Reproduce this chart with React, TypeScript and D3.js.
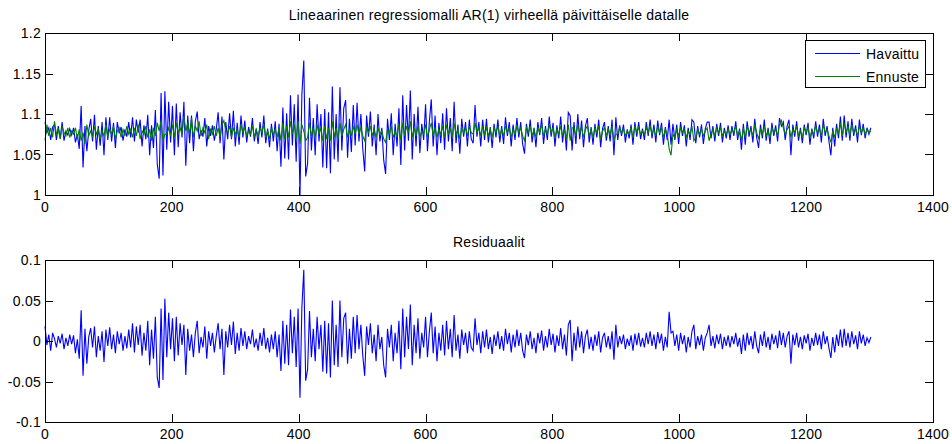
import React from "react";
import * as d3 from "d3";

// Sampled every DAY_STEP days (day = index * DAY_STEP)
const DAY_STEP = 3;

const havaittu = [
  1.090, 1.077, 1.083, 1.068, 1.084, 1.087, 1.068, 1.085, 1.070, 1.090, 1.067, 1.079, 1.074, 1.082, 1.074,
  1.083, 1.065, 1.075, 1.057, 1.110, 1.034, 1.085, 1.054, 1.080, 1.094, 1.066, 1.099, 1.056, 1.085, 1.061,
  1.090, 1.049, 1.096, 1.068, 1.096, 1.066, 1.089, 1.058, 1.090, 1.076, 1.084, 1.067, 1.081, 1.072, 1.090,
  1.071, 1.096, 1.066, 1.093, 1.077, 1.093, 1.060, 1.086, 1.069, 1.099, 1.049, 1.086, 1.058, 1.105, 1.038,
  1.020, 1.126, 1.024, 1.128, 1.056, 1.115, 1.065, 1.110, 1.049, 1.113, 1.059, 1.102, 1.071, 1.115, 1.036,
  1.098, 1.064, 1.098, 1.054, 1.091, 1.103, 1.069, 1.080, 1.072, 1.095, 1.060, 1.085, 1.073, 1.086, 1.067,
  1.081, 1.102, 1.064, 1.097, 1.044, 1.090, 1.069, 1.101, 1.069, 1.104, 1.060, 1.089, 1.062, 1.098, 1.071,
  1.092, 1.065, 1.084, 1.072, 1.095, 1.066, 1.082, 1.063, 1.090, 1.071, 1.098, 1.064, 1.082, 1.059, 1.088,
  1.066, 1.091, 1.054, 1.088, 1.035, 1.108, 1.045, 1.101, 1.044, 1.123, 1.061, 1.112, 1.041, 1.124, 1.000,
  1.124, 1.166, 1.023, 1.039, 1.120, 1.055, 1.095, 1.049, 1.112, 1.066, 1.100, 1.034, 1.106, 1.033, 1.102,
  1.027, 1.134, 1.044, 1.100, 1.041, 1.133, 1.055, 1.107, 1.117, 1.046, 1.094, 1.053, 1.111, 1.061, 1.114,
  1.066, 1.100, 1.057, 1.029, 1.098, 1.072, 1.103, 1.060, 1.087, 1.049, 1.100, 1.066, 1.083, 1.043, 1.026,
  1.094, 1.068, 1.101, 1.049, 1.088, 1.060, 1.107, 1.037, 1.123, 1.055, 1.111, 1.067, 1.129, 1.044, 1.100,
  1.060, 1.109, 1.052, 1.088, 1.068, 1.112, 1.054, 1.091, 1.118, 1.060, 1.098, 1.049, 1.089, 1.064, 1.101,
  1.056, 1.107, 1.066, 1.095, 1.054, 1.115, 1.064, 1.087, 1.051, 1.094, 1.072, 1.090, 1.060, 1.093, 1.069,
  1.064, 1.111, 1.072, 1.090, 1.060, 1.093, 1.068, 1.094, 1.065, 1.084, 1.058, 1.088, 1.071, 1.093, 1.065,
  1.085, 1.063, 1.096, 1.073, 1.090, 1.060, 1.087, 1.068, 1.095, 1.071, 1.090, 1.063, 1.051, 1.088, 1.072,
  1.093, 1.065, 1.083, 1.059, 1.090, 1.074, 1.095, 1.063, 1.085, 1.068, 1.097, 1.072, 1.089, 1.060, 1.086,
  1.070, 1.097, 1.065, 1.087, 1.055, 1.102, 1.098, 1.055, 1.090, 1.063, 1.100, 1.069, 1.092, 1.059, 1.085,
  1.095, 1.065, 1.084, 1.062, 1.088, 1.071, 1.093, 1.059, 1.082, 1.090, 1.067, 1.085, 1.066, 1.093, 1.049,
  1.096, 1.068, 1.086, 1.073, 1.087, 1.065, 1.081, 1.070, 1.087, 1.062, 1.090, 1.072, 1.090, 1.069, 1.082,
  1.068, 1.090, 1.073, 1.093, 1.070, 1.087, 1.065, 1.092, 1.074, 1.089, 1.062, 1.084, 1.068, 1.093, 1.062,
  1.088, 1.068, 1.087, 1.063, 1.090, 1.073, 1.086, 1.060, 1.083, 1.068, 1.093, 1.090, 1.064, 1.085, 1.071,
  1.087, 1.063, 1.082, 1.090, 1.090, 1.070, 1.085, 1.066, 1.088, 1.073, 1.089, 1.065, 1.083, 1.070, 1.086,
  1.068, 1.085, 1.073, 1.091, 1.068, 1.082, 1.056, 1.088, 1.062, 1.091, 1.072, 1.085, 1.065, 1.094, 1.071,
  1.058, 1.087, 1.070, 1.093, 1.067, 1.083, 1.063, 1.089, 1.073, 1.086, 1.066, 1.095, 1.085, 1.090, 1.068,
  1.085, 1.093, 1.049, 1.087, 1.072, 1.091, 1.067, 1.083, 1.064, 1.087, 1.074, 1.089, 1.062, 1.082, 1.070,
  1.091, 1.072, 1.087, 1.065, 1.094, 1.073, 1.085, 1.066, 1.049, 1.083, 1.060, 1.088, 1.070, 1.097, 1.067,
  1.098, 1.071, 1.091, 1.067, 1.094, 1.073, 1.086, 1.065, 1.093, 1.074, 1.088, 1.070, 1.083, 1.075, 1.083,
];

const ennuste = [
  1.067, 1.087, 1.073, 1.083, 1.071, 1.091, 1.075, 1.081, 1.069, 1.085, 1.077, 1.073, 1.083, 1.071, 1.079,
  1.075, 1.083, 1.069, 1.081, 1.067, 1.077, 1.063, 1.087, 1.073, 1.079, 1.071, 1.085, 1.075, 1.081, 1.069,
  1.079, 1.073, 1.087, 1.071, 1.081, 1.075, 1.085, 1.069, 1.079, 1.083, 1.071, 1.081, 1.073, 1.085, 1.075,
  1.081, 1.071, 1.083, 1.073, 1.087, 1.069, 1.079, 1.075, 1.085, 1.071, 1.081, 1.067, 1.083, 1.073, 1.089,
  1.079, 1.092, 1.067, 1.075, 1.075, 1.083, 1.073, 1.087, 1.071, 1.089, 1.077, 1.083, 1.075, 1.097, 1.079,
  1.089, 1.075, 1.095, 1.071, 1.085, 1.079, 1.091, 1.073, 1.083, 1.077, 1.087, 1.069, 1.081, 1.075, 1.085,
  1.073, 1.083, 1.071, 1.087, 1.092, 1.079, 1.077, 1.085, 1.071, 1.083, 1.075, 1.081, 1.071, 1.087, 1.077,
  1.083, 1.073, 1.079, 1.075, 1.085, 1.071, 1.081, 1.073, 1.083, 1.077, 1.087, 1.071, 1.079, 1.069, 1.083,
  1.075, 1.081, 1.071, 1.083, 1.067, 1.089, 1.069, 1.085, 1.071, 1.091, 1.075, 1.087, 1.069, 1.091, 1.063,
  1.087, 1.079, 1.067, 1.071, 1.089, 1.073, 1.083, 1.071, 1.087, 1.075, 1.083, 1.067, 1.085, 1.069, 1.083,
  1.067, 1.091, 1.071, 1.083, 1.069, 1.089, 1.073, 1.081, 1.087, 1.071, 1.081, 1.073, 1.085, 1.075, 1.087,
  1.075, 1.083, 1.073, 1.067, 1.083, 1.077, 1.085, 1.073, 1.081, 1.071, 1.083, 1.075, 1.079, 1.069, 1.065,
  1.081, 1.075, 1.085, 1.071, 1.079, 1.073, 1.087, 1.067, 1.089, 1.073, 1.085, 1.077, 1.091, 1.071, 1.083,
  1.073, 1.085, 1.071, 1.079, 1.075, 1.087, 1.071, 1.081, 1.089, 1.073, 1.083, 1.071, 1.081, 1.075, 1.085,
  1.071, 1.087, 1.075, 1.083, 1.071, 1.089, 1.075, 1.081, 1.069, 1.083, 1.077, 1.083, 1.073, 1.085, 1.077,
  1.075, 1.089, 1.077, 1.083, 1.073, 1.085, 1.075, 1.083, 1.073, 1.081, 1.071, 1.083, 1.077, 1.085, 1.073,
  1.081, 1.073, 1.085, 1.077, 1.083, 1.071, 1.081, 1.075, 1.085, 1.077, 1.083, 1.073, 1.067, 1.083, 1.077,
  1.085, 1.073, 1.081, 1.071, 1.083, 1.077, 1.087, 1.073, 1.081, 1.075, 1.087, 1.077, 1.083, 1.071, 1.081,
  1.075, 1.085, 1.073, 1.081, 1.069, 1.087, 1.067, 1.083, 1.083, 1.073, 1.087, 1.077, 1.083, 1.071, 1.081,
  1.085, 1.073, 1.081, 1.071, 1.083, 1.077, 1.085, 1.069, 1.079, 1.083, 1.073, 1.081, 1.075, 1.085, 1.067,
  1.075, 1.075, 1.083, 1.077, 1.081, 1.073, 1.079, 1.075, 1.083, 1.071, 1.085, 1.077, 1.083, 1.075, 1.079,
  1.075, 1.083, 1.077, 1.085, 1.075, 1.081, 1.073, 1.085, 1.077, 1.083, 1.071, 1.081, 1.075, 1.057, 1.049,
  1.075, 1.071, 1.081, 1.073, 1.083, 1.077, 1.081, 1.071, 1.079, 1.075, 1.085, 1.067, 1.071, 1.081, 1.075,
  1.081, 1.073, 1.079, 1.083, 1.067, 1.075, 1.081, 1.073, 1.083, 1.077, 1.083, 1.073, 1.079, 1.075, 1.081,
  1.075, 1.081, 1.077, 1.085, 1.073, 1.079, 1.067, 1.083, 1.071, 1.085, 1.077, 1.081, 1.073, 1.087, 1.077,
  1.069, 1.081, 1.075, 1.085, 1.073, 1.079, 1.071, 1.083, 1.077, 1.081, 1.073, 1.087, 1.092, 1.083, 1.075,
  1.081, 1.085, 1.071, 1.081, 1.077, 1.085, 1.073, 1.079, 1.071, 1.083, 1.077, 1.083, 1.071, 1.079, 1.075,
  1.085, 1.077, 1.081, 1.073, 1.087, 1.077, 1.081, 1.073, 1.065, 1.079, 1.071, 1.083, 1.075, 1.089, 1.073,
  1.089, 1.077, 1.085, 1.073, 1.087, 1.077, 1.081, 1.073, 1.085, 1.077, 1.083, 1.075, 1.081, 1.077, 1.079,
];

const residuaalit = [
  0.018, -0.005, 0.008, -0.012, 0.010, 0.003, -0.008, 0.006, -0.003, 0.009, -0.010, 0.004, -0.006, 0.008, -0.004,
  0.007, -0.015, 0.002, -0.022, 0.038, -0.043, 0.015, -0.028, 0.005, 0.016, -0.008, 0.018, -0.020, 0.006, -0.012,
  0.012, -0.026, 0.014, -0.006, 0.017, -0.010, 0.008, -0.015, 0.012, -0.004, 0.010, -0.012, 0.006, -0.009, 0.014,
  -0.008, 0.022, -0.014, 0.018, -0.005, 0.020, -0.018, 0.010, -0.012, 0.025, -0.030, 0.014, -0.022, 0.030, -0.045,
  -0.058, 0.040, -0.048, 0.052, -0.020, 0.035, -0.010, 0.028, -0.025, 0.030, -0.018, 0.022, -0.005, 0.020, -0.042,
  0.015, -0.012, 0.008, -0.020, 0.010, 0.025, -0.015, 0.005, -0.008, 0.018, -0.022, 0.012, -0.006, 0.010, -0.014,
  0.006, 0.022, -0.010, 0.015, -0.042, 0.012, -0.008, 0.020, -0.005, 0.024, -0.016, 0.010, -0.012, 0.016, -0.006,
  0.012, -0.010, 0.006, -0.004, 0.014, -0.008, 0.003, -0.012, 0.010, -0.006, 0.016, -0.010, 0.004, -0.014, 0.008,
  -0.010, 0.012, -0.020, 0.008, -0.037, 0.025, -0.028, 0.020, -0.030, 0.039, -0.015, 0.030, -0.032, 0.040, -0.070,
  0.042, 0.088, -0.049, -0.035, 0.037, -0.020, 0.015, -0.025, 0.030, -0.010, 0.020, -0.038, 0.025, -0.040, 0.022,
  -0.045, 0.050, -0.030, 0.020, -0.032, 0.050, -0.020, 0.028, 0.035, -0.028, 0.015, -0.022, 0.030, -0.015, 0.032,
  -0.010, 0.020, -0.018, -0.043, 0.018, -0.005, 0.022, -0.015, 0.008, -0.025, 0.020, -0.010, 0.005, -0.030, -0.045,
  0.015, -0.008, 0.020, -0.025, 0.010, -0.015, 0.025, -0.035, 0.040, -0.020, 0.030, -0.010, 0.045, -0.030, 0.020,
  -0.015, 0.028, -0.022, 0.010, -0.008, 0.030, -0.020, 0.012, 0.035, -0.015, 0.018, -0.025, 0.010, -0.012, 0.020,
  -0.018, 0.025, -0.010, 0.015, -0.020, 0.032, -0.012, 0.008, -0.022, 0.014, -0.005, 0.010, -0.015, 0.012, -0.008,
  -0.012, 0.028, -0.005, 0.010, -0.015, 0.012, -0.008, 0.014, -0.010, 0.005, -0.016, 0.008, -0.006, 0.012, -0.010,
  0.006, -0.012, 0.015, -0.004, 0.010, -0.014, 0.008, -0.008, 0.014, -0.006, 0.010, -0.012, -0.021, 0.008, -0.005,
  0.012, -0.010, 0.004, -0.015, 0.010, -0.003, 0.013, -0.012, 0.006, -0.008, 0.015, -0.005, 0.009, -0.014, 0.007,
  -0.006, 0.016, -0.010, 0.008, -0.018, 0.020, 0.026, -0.025, 0.010, -0.012, 0.018, -0.008, 0.012, -0.015, 0.006,
  0.014, -0.010, 0.005, -0.012, 0.008, -0.006, 0.012, -0.014, 0.004, 0.010, -0.008, 0.006, -0.010, 0.012, -0.023,
  0.020, -0.008, 0.006, -0.004, 0.008, -0.010, 0.003, -0.006, 0.007, -0.012, 0.009, -0.005, 0.010, -0.007, 0.004,
  -0.008, 0.010, -0.004, 0.012, -0.006, 0.008, -0.010, 0.011, -0.003, 0.009, -0.012, 0.005, -0.008, 0.036, 0.010,
  0.012, -0.006, 0.008, -0.012, 0.010, -0.004, 0.007, -0.014, 0.005, -0.008, 0.012, 0.020, -0.010, 0.006, -0.005,
  0.008, -0.012, 0.004, 0.010, 0.020, -0.006, 0.006, -0.009, 0.008, -0.004, 0.009, -0.010, 0.005, -0.006, 0.007,
  -0.008, 0.006, -0.004, 0.010, -0.007, 0.004, -0.016, 0.008, -0.012, 0.010, -0.005, 0.006, -0.010, 0.012, -0.006,
  -0.015, 0.008, -0.006, 0.012, -0.008, 0.005, -0.011, 0.009, -0.004, 0.007, -0.009, 0.013, -0.005, 0.010, -0.008,
  0.006, 0.012, -0.028, 0.008, -0.005, 0.010, -0.008, 0.005, -0.010, 0.007, -0.003, 0.009, -0.012, 0.004, -0.006,
  0.010, -0.005, 0.008, -0.010, 0.012, -0.004, 0.006, -0.009, -0.021, 0.005, -0.014, 0.008, -0.006, 0.014, -0.008,
  0.015, -0.006, 0.010, -0.008, 0.012, -0.004, 0.007, -0.010, 0.012, -0.003, 0.008, -0.006, 0.004, -0.002, 0.005,
];

const xTicks = [0, 200, 400, 600, 800, 1000, 1200, 1400];
const xTickLabels = ["0", "200", "400", "600", "800", "1000", "1200", "1400"];
const yTicksTop = [1, 1.05, 1.1, 1.15, 1.2];
const yTickLabelsTop = ["1", "1.05", "1.1", "1.15", "1.2"];
const yTicksBottom = [-0.1, -0.05, 0, 0.05, 0.1];
const yTickLabelsBottom = ["-0.1", "-0.05", "0", "0.05", "0.1"];
const legendLabels = ["Havaittu", "Ennuste"];
const titleTop = "Lineaarinen regressiomalli AR(1) virheellä päivittäiselle datalle";
const titleBottom = "Residuaalit";

const W = 952;
const H = 444;
const LEFT = 45;
const RIGHT = 933;
const TOP1 = 33;
const BOT1 = 195;
const TOP2 = 260;
const BOT2 = 422;
const TICK = 8;
const FONT = "'Liberation Sans', Arial, Helvetica, sans-serif";
const FS = 14;
const LS = 0.25;
const BLUE = "#0000ff";
const GREEN = "#008000";

const x = d3.scaleLinear().domain([0, 1400]).range([LEFT, RIGHT]);

function Label(props: any) {
  return <text fontFamily={FONT} fontSize={FS} letterSpacing={LS} fill="#000" {...props} />;
}

function Axes({ top, bottom, yTicks, yLabels, yDomain }: any) {
  const y = d3.scaleLinear().domain(yDomain).range([bottom, top]);
  return (
    <g>
      <rect x={LEFT + 0.5} y={top + 0.5} width={RIGHT - LEFT} height={bottom - top} fill="none" stroke="#000" strokeWidth={1} shapeRendering="crispEdges" />
      {xTicks.map((t, i) => {
        const px = Math.round(x(t)) + 0.5;
        return (
          <g key={"x" + i}>
            <line x1={px} x2={px} y1={bottom} y2={bottom - TICK} stroke="#000" shapeRendering="crispEdges" />
            <line x1={px} x2={px} y1={top} y2={top + TICK} stroke="#000" shapeRendering="crispEdges" />
            <Label x={x(t)} y={bottom + 17} textAnchor="middle">{xTickLabels[i]}</Label>
          </g>
        );
      })}
      {yTicks.map((t: number, i: number) => {
        const py = Math.round(y(t)) + 0.5;
        return (
          <g key={"y" + i}>
            <line x1={LEFT} x2={LEFT + TICK} y1={py} y2={py} stroke="#000" shapeRendering="crispEdges" />
            <line x1={RIGHT} x2={RIGHT - TICK} y1={py} y2={py} stroke="#000" shapeRendering="crispEdges" />
            <Label x={LEFT - 4} y={y(t) + 5} textAnchor="end">{yLabels[i]}</Label>
          </g>
        );
      })}
    </g>
  );
}

export default function App() {
  const y1 = d3.scaleLinear().domain([1, 1.2]).range([BOT1, TOP1]);
  const y2 = d3.scaleLinear().domain([-0.1, 0.1]).range([BOT2, TOP2]);
  const line1 = d3.line<number>().x((_, i) => x(i * DAY_STEP)).y((d) => y1(d));
  const line2 = d3.line<number>().x((_, i) => x(i * DAY_STEP)).y((d) => y2(d));

  return (
    <svg width={W} height={H} style={{ position: "absolute", left: 0, top: 0, background: "#fff" }}>
      <rect x={0} y={0} width={W} height={H} fill="#fff" />
      <Label x={(LEFT + RIGHT) / 2} y={20} textAnchor="middle">{titleTop}</Label>
      <path d={line1(havaittu) || ""} fill="none" stroke={BLUE} strokeWidth={1.1} />
      <path d={line1(ennuste) || ""} fill="none" stroke={GREEN} strokeWidth={1.1} />
      <Axes top={TOP1} bottom={BOT1} yTicks={yTicksTop} yLabels={yTickLabelsTop} yDomain={[1, 1.2]} />
      <g>
        <rect x={805.5} y={40.5} width={120} height={47} fill="#fff" stroke="#000" shapeRendering="crispEdges" />
        <line x1={815} x2={860} y1={53.5} y2={53.5} stroke={BLUE} />
        <Label x={866} y={58.5}>{legendLabels[0]}</Label>
        <line x1={815} x2={860} y1={76.5} y2={76.5} stroke={GREEN} />
        <Label x={866} y={81.5}>{legendLabels[1]}</Label>
      </g>

      <Label x={(LEFT + RIGHT) / 2} y={247} textAnchor="middle">{titleBottom}</Label>
      <path d={line2(residuaalit) || ""} fill="none" stroke={BLUE} strokeWidth={1.1} />
      <Axes top={TOP2} bottom={BOT2} yTicks={yTicksBottom} yLabels={yTickLabelsBottom} yDomain={[-0.1, 0.1]} />
    </svg>
  );
}
